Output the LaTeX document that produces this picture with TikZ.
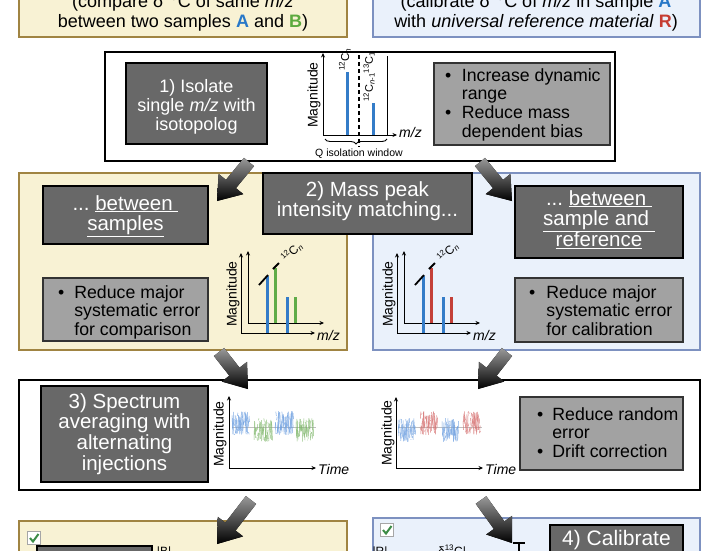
\documentclass[tikz,border=0pt]{standalone}
\usepackage{fontspec}
\setmainfont{Liberation Sans}
\usetikzlibrary{calc,decorations.pathreplacing,arrows.meta}
\definecolor{beigefill}{RGB}{248,242,212}
\definecolor{beigeline}{RGB}{160,132,66}
\definecolor{bluefill}{RGB}{234,241,251}
\definecolor{blueline}{RGB}{125,145,192}
\definecolor{darkfill}{RGB}{104,104,104}
\definecolor{greyfill}{RGB}{162,162,162}
\definecolor{cA}{RGB}{40,120,200}
\definecolor{cB}{RGB}{92,170,62}
\definecolor{cR}{RGB}{198,60,50}
\definecolor{barB}{RGB}{52,124,200}
\definecolor{barG}{RGB}{96,172,72}
\definecolor{barR}{RGB}{196,64,56}
\definecolor{nB}{RGB}{110,160,225}
\definecolor{nG}{RGB}{128,184,108}
\definecolor{nR}{RGB}{214,112,112}
\definecolor{checkc}{RGB}{60,140,70}
\newcommand\fatarrow[2]{%
  \coordinate (#1-b) at ($(#2)!22pt!(#1)$);
  \fill[top color=black!40, bottom color=black]
    ($(#1)!6.5pt!90:(#2)$) -- ($(#1-b)!6.5pt!90:(#2)$) -- ($(#1-b)!16pt!90:(#2)$) -- (#2)
    -- ($(#1-b)!16pt!-90:(#2)$) -- ($(#1-b)!6.5pt!-90:(#2)$) -- ($(#1)!6.5pt!-90:(#2)$) -- cycle;}
\newcommand\noisy[5]{%
  \foreach \k in {0,...,44}{%
    \pgfmathsetmacro\xa{#1+(#2-#1)*\k/44}%
    \pgfmathsetmacro\ya{#3+#4*rand}%
    \pgfmathsetmacro\yb{#3+#4*rand}%
    \draw[#5, line width=0.5pt, opacity=0.85] (\xa,\ya) -- (\xa+0.5,\yb);
  }}
\begin{document}
\begin{tikzpicture}[x=1pt,y=-1pt,
  panelY/.style={fill=beigefill,draw=beigeline,line width=1.4pt,inner sep=0},
  panelB/.style={fill=bluefill,draw=blueline,line width=1.2pt,inner sep=0},
  stepframe/.style={fill=white,draw=black,line width=1.8pt,inner sep=0},
  darkbox/.style={fill=darkfill,draw=black,line width=1.6pt,inner sep=0},
  greybox/.style={fill=greyfill,draw=black!80,line width=1.2pt,inner sep=0},
  wtxt/.style={text=white,font=\fontsize{20.5}{19.5}\selectfont,inner sep=0,anchor=base},
  btxt/.style={text=black,font=\fontsize{17.7}{18.7}\selectfont,inner sep=0,anchor=base west},
  toptxt/.style={text=black,font=\fontsize{18}{20}\selectfont,inner sep=0,anchor=base},
  ax/.style={line width=0.9pt,-{Stealth[length=4.5pt,width=4pt]}},
  axlab/.style={font=\fontsize{14}{14}\selectfont,inner sep=0},
  peaklab/.style={font=\fontsize{12}{12}\selectfont,inner sep=0},
  smalllab/.style={font=\fontsize{12}{12}\selectfont,inner sep=0,anchor=base},
  bar/.style={line width=3pt},
]
\useasboundingbox (0,0) rectangle (715,550);
\clip (0,0) rectangle (715,550);
\fill[white] (0,0) rectangle (715,550);

% ---- top panels
\node[panelY, minimum width=328, minimum height=57] (topL) at (183,8.5) {};
\node[panelB, minimum width=327, minimum height=57] (topR) at (536.5,8.5) {};
\node[toptxt] (topLa) at (183,7) {(compare δ\textsuperscript{13}C of same \textit{m/z}};
\node[toptxt] (topLb) at (183,27) {between two samples \textbf{\color{cA}A} and \textbf{\color{cB}B})};
\node[toptxt] (topRa) at (536,7) {(calibrate δ\textsuperscript{13}C of \textit{m/z} in sample \textbf{\color{cA}A}};
\node[toptxt] (topRb) at (536,27) {with \textit{universal reference material} \textbf{\color{cR}R})};

% ---- step 1
\node[stepframe, minimum width=510, minimum height=109] (box1) at (360,106.5) {};
\node[darkbox, minimum width=141, minimum height=81] (d1) at (196.5,103.5) {};
\node[wtxt, font=\fontsize{18}{19}\selectfont] (d1t) at (196.5,92) {\begin{tabular}[t]{@{}c@{}}1) Isolate\\single \textit{m/z} with\\isotopolog\end{tabular}};
\node[greybox, minimum width=176, minimum height=82] (g1) at (522,104) {};
\node[btxt] (g1t) at (445,81) {\begin{tabular}[t]{@{}l@{\hspace{10.5pt}}l@{}}•&Increase dynamic\\&range\\•&Reduce mass\\&dependent bias\end{tabular}};
% plot 1
\coordinate (o1) at (323,135);
\draw[ax] (o1) -- (323,53);
\draw[ax] (o1) -- (397,135);
\draw[line width=0.9pt] (387,135) -- (387,56);
\draw[line width=1.3pt, dash pattern=on 4pt off 3pt] (359,55) -- (359,147);
\draw[decorate, decoration={brace,amplitude=5pt}, line width=0.9pt] (387,139) -- (325,139);
\draw[bar, barB] (347,135) -- (347,72);
\draw[bar, barB] (373,135) -- (373,103);
\node[peaklab, font=\fontsize{11.5}{11.5}\selectfont, rotate=90, anchor=west] (p1a) at (345,71) {\textsuperscript{12}C\textsubscript{\textit{n}}};
\node[peaklab, font=\fontsize{11}{11}\selectfont, rotate=90, anchor=west] (p1b) at (369,102) {\textsuperscript{12}C\textsubscript{\textit{n}-1}\textsuperscript{13}C\textsubscript{1}};
\node[axlab, rotate=90] (m1) at (314,95) {Magnitude};
\node[axlab, anchor=base west] (mz1) at (399,137) {\textit{m/z}};
\node[font=\fontsize{10.5}{10.5}\selectfont, inner sep=0, anchor=base] (qw) at (359,156) {Q isolation window};

% ---- step 2 panels
\node[panelY, minimum width=328, minimum height=177] (panL) at (183,261.5) {};
\node[panelB, minimum width=327, minimum height=177] (panR) at (536.5,261.5) {};
\node[darkbox, minimum width=209, minimum height=61] (d2) at (367.5,203.5) {};
\node[wtxt] (d2t) at (367.5,196) {\begin{tabular}[t]{@{}c@{}}2) Mass peak\\intensity matching...\end{tabular}};
\node[darkbox, minimum width=165, minimum height=58] (dL) at (125.5,215) {};
\node[wtxt] (dLt) at (125.5,210) {\begin{tabular}[t]{@{}c@{}}...\ \underline{between\ }\\\underline{samples}\end{tabular}};
\node[greybox, minimum width=165, minimum height=63] (gL) at (125.5,309.5) {};
\node[btxt] (gLt) at (58,298) {\begin{tabular}[t]{@{}l@{\hspace{10pt}}l@{}}•&Reduce major\\&systematic error\\&for comparison\end{tabular}};
\node[darkbox, minimum width=168, minimum height=72] (dR) at (599,222) {};
\node[wtxt] (dRt) at (599,205) {\begin{tabular}[t]{@{}c@{}}...\ \underline{between\ }\\\underline{sample and\ }\\\underline{reference}\end{tabular}};
\node[greybox, minimum width=168, minimum height=64] (gR) at (599,310) {};
\node[btxt] (gRt) at (529,298) {\begin{tabular}[t]{@{}l@{\hspace{11pt}}l@{}}•&Reduce major\\&systematic error\\&for calibration\end{tabular}};
% plots (A vs B, A vs R)
\foreach \dx/\cc/\nm in {0/barG/L, 156/barR/R}{
  \begin{scope}[xshift=\dx]
    \draw[ax] (241,333) -- (241,253);
    \draw[ax] (241,333) -- (315,333);
    \draw[ax] (248,323) -- (248,251);
    \draw[ax] (248,323) -- (324,323);
    \draw[bar, barB] (267,333) -- (267,276);
    \draw[bar, barB] (287,333) -- (287,297);
    \draw[bar, \cc] (275,323) -- (275,268);
    \draw[bar, \cc] (295,323) -- (295,297);
    \draw[line width=1.8pt] (259,285) -- (268,275);
    \draw[line width=1.8pt] (273,269) -- (279,263);
    \node[peaklab, rotate=45] (pk\nm) at (292,252) {\textsuperscript{12}C\textsubscript{\textit{n}}};
    \node[axlab, rotate=90] (mg\nm) at (233,294) {Magnitude};
    \node[axlab, anchor=base west] (mz\nm) at (317,340) {\textit{m/z}};
  \end{scope}}

% ---- step 3
\node[stepframe, minimum width=681, minimum height=110] (box3) at (359.5,435) {};
\node[darkbox, minimum width=167, minimum height=96] (d3) at (124.5,434) {};
\node[wtxt] (d3t) at (124.5,408) {\begin{tabular}[t]{@{}c@{}}3) Spectrum\\averaging with\\alternating\\injections\end{tabular}};
\node[greybox, minimum width=163, minimum height=73] (g3) at (601.5,433.5) {};
\node[btxt] (g3t) at (537,420) {\begin{tabular}[t]{@{}l@{\hspace{9pt}}l@{}}•&Reduce random\\&error\\•&Drift correction\end{tabular}};
% time plots
\pgfmathsetseed{12}
\draw[black!25, line width=0.4pt] (232,427) -- (316,427);
\noisy{232}{249}{423}{12}{nB}
\noisy{254}{272}{430}{12}{nG}
\noisy{275}{293}{423}{12}{nB}
\noisy{296}{313}{430}{12}{nG}
\draw[ax] (229,468) -- (229,396);
\draw[ax] (229,468) -- (316,468);
\node[axlab, rotate=90] (mg3L) at (220,434) {Magnitude};
\node[axlab, anchor=base west] (tL) at (318,474) {\textit{Time}};
\draw[black!25, line width=0.4pt] (398,427) -- (482,427);
\noisy{398}{415}{430}{12}{nB}
\noisy{420}{437}{423}{12}{nR}
\noisy{442}{458}{430}{12}{nB}
\noisy{463}{480}{423}{12}{nR}
\draw[ax] (396,468) -- (396,397);
\draw[ax] (396,468) -- (483,468);
\node[axlab, rotate=90] (mg3R) at (388,433) {Magnitude};
\node[axlab, anchor=base west] (tR) at (485,474) {\textit{Time}};

% ---- step 4 panels
\node[panelY, minimum width=328, minimum height=79] (panL4) at (183,560.5) {};
\node[panelB, minimum width=327, minimum height=82] (panR4) at (536.5,559) {};
\node[draw=black!35, fill=white, line width=0.6pt, minimum size=13, inner sep=0] (ckL) at (34,538) {};
\draw[checkc, line width=2pt] ($(ckL.center)+(-4,0)$) -- ($(ckL.center)+(-1,3.5)$) -- ($(ckL.center)+(4.5,-4)$);
\node[draw=black!35, fill=white, line width=0.6pt, minimum size=13, inner sep=0] (ckR) at (387,530) {};
\draw[checkc, line width=2pt] ($(ckR.center)+(-4,0)$) -- ($(ckR.center)+(-1,3.5)$) -- ($(ckR.center)+(4.5,-4)$);
\node[darkbox, minimum width=115, minimum height=40] (d4L) at (94.5,566) {};
\node[darkbox, minimum width=133, minimum height=75] (d4R) at (616.5,562.5) {};
\node[wtxt, font=\fontsize{21}{22}\selectfont] (d4Rt) at (616.5,545) {4) Calibrate};
\node[smalllab] (lbB) at (164,555) {|B|};
\node[smalllab] (lbR) at (380,555) {|R|};
\node[smalllab] (lbd) at (452,555) {δ\textsuperscript{13}C|};

% ---- big arrows
\coordinate (a1t) at (249,162); \coordinate (a1h) at (217,201);
\coordinate (a2t) at (480,162); \coordinate (a2h) at (512,201);
\coordinate (a3t) at (219,352); \coordinate (a3h) at (248,389);
\coordinate (a4t) at (507,352); \coordinate (a4h) at (478,389);
\coordinate (a5t) at (251,500); \coordinate (a5h) at (217,544);
\coordinate (a6t) at (481,500); \coordinate (a6h) at (512,543);
\fatarrow{a1t}{a1h}
\fatarrow{a2t}{a2h}
\fatarrow{a3t}{a3h}
\fatarrow{a4t}{a4h}
\fatarrow{a5t}{a5h}
\fatarrow{a6t}{a6h}
\coordinate (ebar) at (519,543);
\draw[line width=1.2pt] ($(ebar)+(-6,0)$) -- ($(ebar)+(6,0)$) (ebar) -- ($(ebar)+(0,10)$);
\end{tikzpicture}
\end{document}
